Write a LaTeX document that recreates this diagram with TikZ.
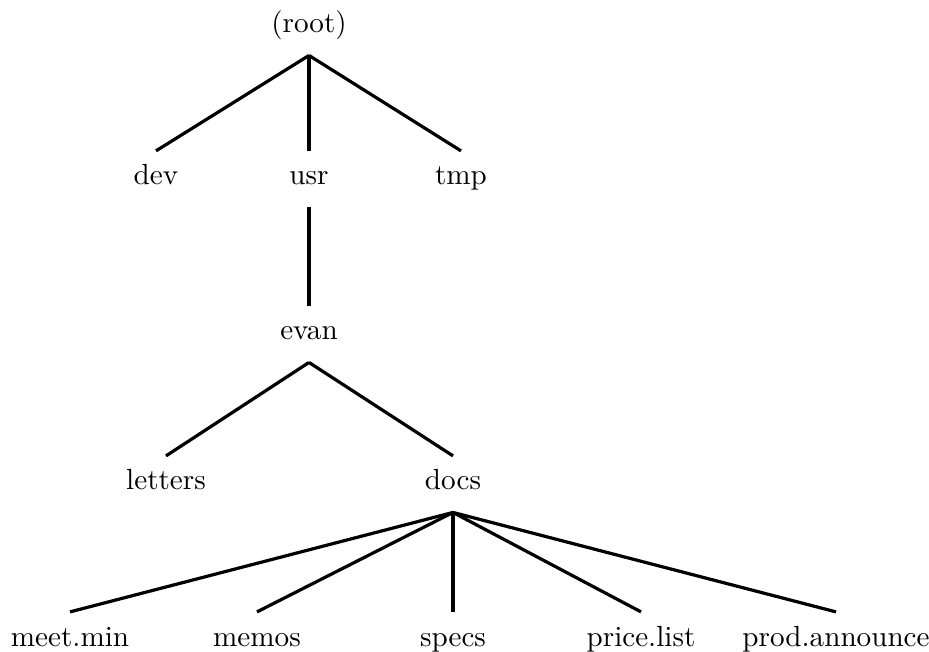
\documentclass[tikz,border=0pt]{standalone}
\usepackage{amsmath}
\usepackage{tikz}
\usetikzlibrary{positioning}

\begin{document}
\begin{tikzpicture}[x=0.343pt,y=-0.343pt,
dir/.style={anchor=base,text height=7pt,text depth=3pt,inner xsep=0pt,inner ysep=4.5pt},
branch/.style={line width=1.1pt}]
\useasboundingbox (0,0) rectangle (929,652);
\node[dir] (root) at (309,33) {(root)};
\node[dir] (dev) at (156,185) {dev};
\node[dir] (usr) at (309,185) {usr};
\node[dir] (tmp) at (461,185) {tmp};
\node[dir] (evan) at (309,340) {evan};
\node[dir] (letters) at (166,490) {letters};
\node[dir] (docs) at (453,490) {docs};
\node[dir] (meetmin) at (70,646) {meet.min};
\node[dir] (memos) at (257,646) {memos};
\node[dir] (specs) at (453,646) {specs};
\node[dir] (pricelist) at (641,646) {price.list};
\node[dir] (prodann) at (836,646) {prod.announce};
\path[branch](root.south) edge (dev.north) edge (usr.north) edge (tmp.north);
\path[branch](usr.south) edge (evan.north);
\path[branch](evan.south) edge (letters.north) edge (docs.north);
\path[branch](docs.south) edge (meetmin.north) edge (memos.north) edge (specs.north)
  edge (pricelist.north) edge (prodann.north);
\end{tikzpicture}
\end{document}
